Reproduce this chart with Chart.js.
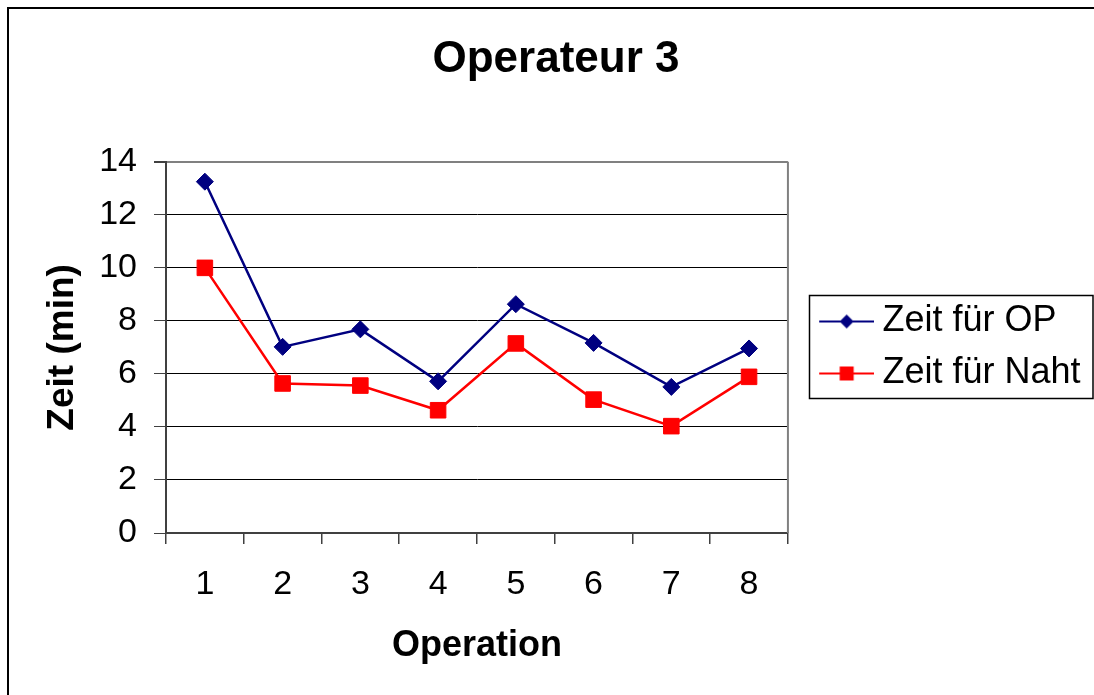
<!DOCTYPE html>
<html>
<head>
<meta charset="utf-8">
<script src="https://cdn.jsdelivr.net/npm/chart.js@4/dist/chart.umd.min.js"></script>
<style>
  html, body { margin: 0; padding: 0; background: #fff; }
  #wrap { width: 1094px; height: 695px; }
</style>
</head>
<body>
<div id="wrap"><canvas id="chart" width="1094" height="695"></canvas></div>
<script>
// Operateur 3 — Zeit pro Operation
const OPERATIONS = ['1', '2', '3', '4', '5', '6', '7', '8'];
const ZEIT_OP    = [13.25, 7.02, 7.68, 5.72, 8.63, 7.17, 5.51, 6.96];
const ZEIT_NAHT  = [10.0, 5.64, 5.56, 4.63, 7.15, 5.03, 4.03, 5.89];
const Y_TICKS    = [0, 2, 4, 6, 8, 10, 12, 14];

const FONT = "'Liberation Sans', Arial, sans-serif";
const NAVY = '#000080';
const RED  = '#FF0000';

// kleines Legenden-Symbol: Linie mit Marker
function legendIcon(color, marker) {
  const c = document.createElement('canvas');
  c.width = 80; c.height = 20;
  const g = c.getContext('2d');
  g.strokeStyle = color;
  g.lineWidth = 2;
  g.beginPath(); g.moveTo(25, 10); g.lineTo(80, 10); g.stroke();
  g.fillStyle = color;
  const cx = 52.5, cy = 10;
  if (marker === 'diamond') {
    g.beginPath();
    g.moveTo(cx, cy - 7); g.lineTo(cx + 7, cy); g.lineTo(cx, cy + 7); g.lineTo(cx - 7, cy);
    g.closePath(); g.fill();
  } else {
    g.fillRect(cx - 7, cy - 7, 14, 14);
  }
  return c;
}
const ICONS = [legendIcon(NAVY, 'diamond'), legendIcon(RED, 'square')];

// Rahmen außen, Plotfläche rechts, Legendenrahmen
const framePlugin = {
  id: 'frame',
  afterDraw(chart) {
    const ctx = chart.ctx;
    const a = chart.chartArea;
    ctx.save();
    ctx.strokeStyle = '#000';
    ctx.lineWidth = 2;
    ctx.beginPath();
    ctx.moveTo(8, chart.height); ctx.lineTo(8, 8); ctx.lineTo(chart.width, 8);
    ctx.stroke();

    ctx.strokeStyle = '#808080';
    ctx.lineWidth = 2;
    ctx.beginPath();
    ctx.moveTo(a.right, a.top); ctx.lineTo(a.right, a.bottom);
    ctx.stroke();

    const hb = chart.legend.legendHitBoxes;
    if (hb && hb.length) {
      const top = hb[0].top - 8;
      const bot = hb[hb.length - 1].top + hb[hb.length - 1].height + 7;
      ctx.strokeStyle = '#000';
      ctx.lineWidth = 1.5;
      ctx.strokeRect(809.5, top, chart.width - 1 - 809.5, bot - top);
    }
    ctx.restore();
  }
};

new Chart(document.getElementById('chart'), {
  type: 'line',
  data: {
    labels: OPERATIONS,
    datasets: [
      { label: 'Zeit für OP',   data: ZEIT_OP,   borderColor: NAVY, backgroundColor: NAVY,
        borderWidth: 2.5, pointStyle: 'rectRot', pointRadius: 8.5, pointBackgroundColor: NAVY,
        pointBorderColor: NAVY, pointBorderWidth: 1, tension: 0 },
      { label: 'Zeit für Naht', data: ZEIT_NAHT, borderColor: RED,  backgroundColor: RED,
        borderWidth: 2.5, pointStyle: 'rect',    pointRadius: 11, pointBackgroundColor: RED,
        pointBorderColor: RED, pointBorderWidth: 1, tension: 0 }
    ]
  },
  options: {
    responsive: false,
    animation: false,
    layout: { padding: { left: 21.5, right: 3.5, top: 0, bottom: 0 } },
    plugins: {
      title: {
        display: true,
        text: 'Operateur 3',
        color: '#000',
        font: { family: FONT, size: 44, weight: 'bold' },
        padding: { top: 33, bottom: 76 }
      },
      legend: {
        position: 'right',
        maxWidth: 400,
        labels: {
          usePointStyle: true,
          pointStyleWidth: 60.5,
          padding: 16,
          color: '#000',
          font: { family: FONT, size: 36 },
          generateLabels: chart => chart.data.datasets.map((ds, i) => ({
            text: ds.label,
            fillStyle: ds.borderColor,
            strokeStyle: ds.borderColor,
            lineWidth: 0,
            pointStyle: ICONS[i],
            fontColor: '#000',
            hidden: false,
            datasetIndex: i
          }))
        }
      },
      tooltip: { enabled: false }
    },
    scales: {
      x: {
        offset: true,
        grid: { display: true, offset: true, drawOnChartArea: false, tickLength: 11, color: '#404040', lineWidth: 1.5 },
        border: { color: '#404040', width: 2 },
        ticks: { color: '#000', padding: 20, autoSkip: false, maxRotation: 0, font: { family: FONT, size: 34 } },
        title: { display: true, text: 'Operation', color: '#000', font: { family: FONT, size: 36, weight: 'bold' }, padding: { top: 0, bottom: 27 } },
        afterFit: s => { s.height = 162; }
      },
      y: {
        min: 0,
        max: 14,
        afterBuildTicks: s => { s.ticks = Y_TICKS.map(v => ({ value: v })); },
        grid: {
          tickLength: 12,
          color: c => c.tick && c.tick.value === 14 ? '#808080' : '#000',
          lineWidth: c => c.tick && c.tick.value === 14 ? 2 : 1,
          tickColor: '#404040'
        },
        border: { color: '#404040', width: 2 },
        ticks: { color: '#000', padding: 17, font: { family: FONT, size: 34 } },
        title: { display: true, text: 'Zeit (min)', color: '#000', font: { family: FONT, size: 37, weight: 'bold' }, padding: { top: 19, bottom: 0 } },
        afterFit: s => { s.width = 144.5; }
      }
    }
  },
  plugins: [framePlugin]
});
</script>
</body>
</html>
